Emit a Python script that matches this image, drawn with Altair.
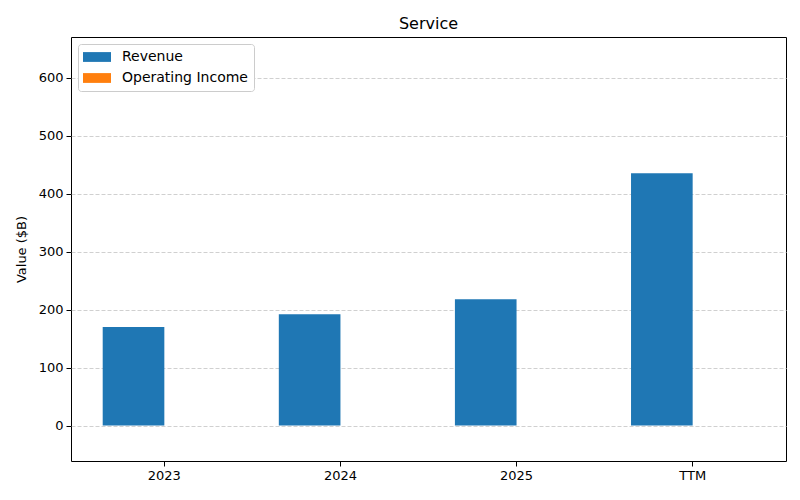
import altair as alt
import pandas as pd

categories = ["2023", "2024", "2025", "TTM"]
revenue = [170, 192, 218, 435]
operating_income = [0, 0, 0, 0]
series = ["Revenue", "Operating Income"]
colors = ["#1f77b4", "#ff7f0e"]
y_ticks = [0, 100, 200, 300, 400, 500, 600]

rows = []
for c, r, o in zip(categories, revenue, operating_income):
    rows.append({"period": c, "series": "Revenue", "value": r})
    rows.append({"period": c, "series": "Operating Income", "value": o})
df = pd.DataFrame(rows)

font = "DejaVu Sans"

chart = alt.Chart(df).mark_bar().encode(
    x=alt.X("period:N", sort=categories,
            scale=alt.Scale(paddingInner=0, paddingOuter=0.03),
            axis=alt.Axis(title=None, labelAngle=0, grid=False, domain=False,
                          tickColor="black", tickSize=5, labelFontSize=13,
                          labelColor="black", labelFont=font, labelPadding=3)),
    xOffset=alt.XOffset("series:N", sort=series,
                        scale=alt.Scale(paddingInner=0, paddingOuter=0.4286)),
    y=alt.Y("value:Q",
            scale=alt.Scale(domain=[-61, 670], nice=False, zero=False),
            axis=alt.Axis(title="Value ($B)", values=y_ticks, grid=True,
                          gridColor="#d0d0d0", gridDash=[4, 2], gridWidth=1,
                          domain=False, tickColor="black", tickSize=5,
                          labelFontSize=13, labelColor="black", labelFont=font,
                          titleFontSize=13, titleFont=font, titleFontWeight="normal",
                          titleColor="black", titlePadding=10, labelPadding=3)),
    color=alt.Color("series:N", sort=series,
                    scale=alt.Scale(domain=series, range=colors),
                    legend=alt.Legend(title=None, orient="none", legendX=7, legendY=7,
                                      symbolType="M-2,-0.7H2V0.7H-2Z",
                                      symbolSize=196, symbolStrokeWidth=0,
                                      symbolOffset=6,
                                      labelFontSize=14, labelFont=font,
                                      labelColor="black",
                                      strokeColor="#cccccc", fillColor="white",
                                      padding=6, cornerRadius=3,
                                      rowPadding=7, labelOffset=18)),
).properties(
    width=715, height=424,
    title=alt.Title("Service", fontSize=16, font=font, fontWeight="normal",
                    color="black", offset=5),
    autosize=alt.AutoSizeParams(type="none"),
    padding={"left": 63, "top": 29, "right": 6, "bottom": 31},
).configure_view(
    stroke="black", strokeWidth=1
)

chart.save("out.html", embed_options={"renderer": "svg", "actions": False})
